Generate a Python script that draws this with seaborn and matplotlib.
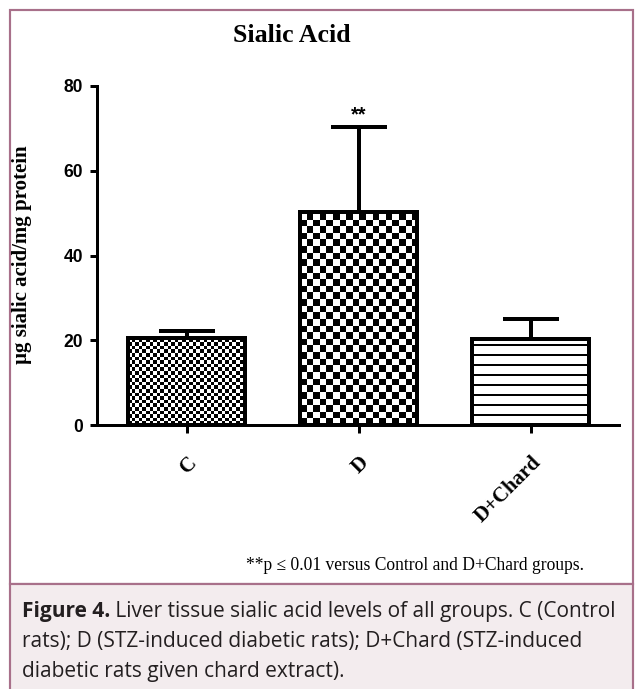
import numpy as np
import pandas as pd
import matplotlib
matplotlib.use("Agg")
import matplotlib.pyplot as plt
import seaborn as sns
from matplotlib.patches import Rectangle

# ---------------- data ----------------
groups = ["C", "D", "D+Chard"]
means = [20.5, 50.3, 20.3]
sem_up = [1.7, 20.0, 4.7]
sig_labels = ["", "**", ""]
yticks = [0, 20, 40, 60, 80]
title = "Sialic Acid"
ylabel = "µg sialic acid/mg protein"
footnote = "**p ≤ 0.01 versus Control and D+Chard groups."
caption_bold = "Figure 4."
caption_lines = [" Liver tissue sialic acid levels of all groups. C (Control",
                 "rats); D (STZ-induced diabetic rats); D+Chard (STZ-induced",
                 "diabetic rats given chard extract)."]

# ---------------- style ----------------
sns.set_theme(style="ticks")
plt.rcParams["hatch.linewidth"] = 1.2
plt.rcParams["text.color"] = "black"
plt.rcParams["axes.labelcolor"] = "black"
SERIF = ["Liberation Serif", "DejaVu Serif"]
SANS = ["Liberation Sans", "DejaVu Sans"]
CAP = ["Open Sans", "DejaVu Sans"]
CAP_COL = "#231f20"

DPI = 120
W, H = 637, 689
fig = plt.figure(figsize=(W / DPI, H / DPI), dpi=DPI)
fig.patch.set_facecolor("white")

def fx(px):
    return px / W

def fy(py):
    return 1 - py / H

frame_col = "#a8708a"
fig.patches.append(Rectangle((fx(10), fy(584)), fx(633) - fx(10), fy(10) - fy(584),
                             transform=fig.transFigure, fill=False,
                             edgecolor=frame_col, lw=1.3, zorder=0))
fig.patches.append(Rectangle((fx(10), fy(692)), fx(633) - fx(10), fy(584) - fy(692),
                             transform=fig.transFigure, facecolor="#f3ecee",
                             edgecolor=frame_col, lw=1.3, zorder=0))

ax = fig.add_axes([fx(97), fy(425), fx(619) - fx(97), fy(86) - fy(425)])
ax.set_facecolor("none")

df = pd.DataFrame({"group": groups, "value": means})
sns.barplot(data=df, x="group", y="value", color="white", edgecolor="black",
            linewidth=2.4, width=0.68, errorbar=None, saturation=1, ax=ax, zorder=2)

ax.errorbar(np.arange(len(groups)), means, yerr=[np.zeros(len(groups)), sem_up],
            fmt="none", ecolor="black", elinewidth=2.4, capsize=17, capthick=2.4,
            zorder=1)

ax.set_xlim(-0.523, 2.512)
ax.set_ylim(0, 80)

checker_px = [3.6, 6.6, None]
for i, p in enumerate(ax.patches):
    s = checker_px[i]
    if s is None:
        p.set_hatch("--")
        continue
    x0, y0 = p.get_x(), p.get_y()
    w, h = p.get_width(), p.get_height()
    d0 = ax.transData.transform((x0, y0))
    d1 = ax.transData.transform((x0 + w, y0 + h))
    pw, ph = d1[0] - d0[0], d1[1] - d0[1]
    nc = int(np.ceil(pw / s))
    nr = int(np.ceil(ph / s))
    arr = np.add.outer(np.arange(nr), np.arange(nc)) % 2
    x1e = x0 + nc * s * w / pw
    y1e = y0 + nr * s * h / ph
    im = ax.imshow(arr, cmap="gray", extent=(x0, x1e, y0, y1e), origin="lower",
                   interpolation="nearest", aspect="auto", zorder=2.1)
    im.set_clip_path(p)
    p.set_facecolor("none")
    p.set_zorder(2.2)

ax.set_xlim(-0.523, 2.512)
ax.set_ylim(0, 80)

for i, lab in enumerate(sig_labels):
    if lab:
        ax.text(i, means[i] + sem_up[i] + 3.0, lab, ha="center", va="center",
                fontsize=12, fontweight="bold", family=SANS, color="black")

sns.despine(ax=ax)
for side in ["left", "bottom"]:
    ax.spines[side].set_linewidth(1.8)
    ax.spines[side].set_color("black")

ax.set_yticks(yticks)
ax.set_yticklabels([str(t) for t in yticks], fontsize=10.5, fontweight="bold",
                   family=SANS)
ax.set_xticks(range(len(groups)))
ax.set_xticklabels(groups, rotation=45, ha="right", rotation_mode="anchor",
                   fontsize=12.5, fontweight="bold", family=SERIF)
ax.tick_params(axis="y", direction="out", length=4.5, width=1.8, pad=4,
               color="black", labelcolor="black")
ax.tick_params(axis="x", direction="out", length=4.5, width=1.8, pad=12,
               color="black", labelcolor="black")
ax.set_xlabel("")
ax.set_ylabel("")

fig.text(fx(292), fy(36), title, ha="center", va="center", fontsize=15.5,
         fontweight="bold", family=SERIF, color="black")
fig.text(fx(22), fy(255), ylabel, rotation=90, ha="center", va="center",
         fontsize=12.5, fontweight="bold", family=SERIF, color="black")
fig.text(fx(415), fy(566), footnote, ha="center", va="center", fontsize=10.5,
         family=SERIF, color="black")

# caption: bold lead-in followed by regular text on the same line
CAP_FS = 12.5
t1 = fig.text(fx(22), fy(617), caption_bold, ha="left", va="baseline",
              fontsize=CAP_FS, fontweight="bold", family=CAP, color=CAP_COL)
fig.canvas.draw()
bb = t1.get_window_extent(renderer=fig.canvas.get_renderer())
fig.text(bb.x1 / W, fy(617), caption_lines[0], ha="left", va="baseline",
         fontsize=CAP_FS, family=CAP, color=CAP_COL)
for k, line in enumerate(caption_lines[1:]):
    fig.text(fx(22), fy(647 + 30 * k), line, ha="left", va="baseline",
             fontsize=CAP_FS, family=CAP, color=CAP_COL)

fig.savefig("out.png", dpi=DPI)
